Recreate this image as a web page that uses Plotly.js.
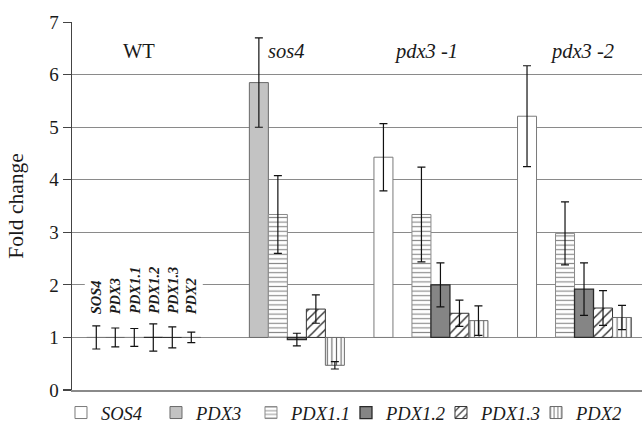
<!DOCTYPE html>
<html>
<head>
<meta charset="utf-8">
<script src="https://cdn.plot.ly/plotly-3.0.1.min.js"></script>
<style>html,body{margin:0;padding:0;background:#fff;}#chart{width:642px;height:428px;}</style>
</head>
<body>
<div id="chart"></div>
<script>
// ---- data (fold change relative to WT, with error) ----
var groups = ['WT', 'sos4', 'pdx3 -1', 'pdx3 -2'];
var genes = ['SOS4', 'PDX3', 'PDX1.1', 'PDX1.2', 'PDX1.3', 'PDX2'];

var sos4Fold  = [1.00, null, 4.43, 5.21];
var sos4Err   = [0.22, null, 0.64, 0.96];
var pdx3Fold  = [1.00, 5.85, null, null];
var pdx3Err   = [0.18, 0.85, null, null];
var pdx11Fold = [1.00, 3.34, 3.34, 2.98];
var pdx11Err  = [0.17, 0.74, 0.90, 0.60];
var pdx12Fold = [1.00, 0.96, 2.00, 1.92];
var pdx12Err  = [0.26, 0.12, 0.42, 0.50];
var pdx13Fold = [1.00, 1.54, 1.46, 1.56];
var pdx13Err  = [0.20, 0.27, 0.25, 0.33];
var pdx2Fold  = [1.00, 0.47, 1.32, 1.38];
var pdx2Err   = [0.10, 0.07, 0.28, 0.23];

var folds = [sos4Fold, pdx3Fold, pdx11Fold, pdx12Fold, pdx13Fold, pdx2Fold];
var errs  = [sos4Err, pdx3Err, pdx11Err, pdx12Err, pdx13Err, pdx2Err];

var styles = [
  {color: '#ffffff', line: {color: '#7a7a7a', width: 1}},
  {color: '#c3c3c3', line: {color: '#6a6a6a', width: 1}},
  {color: '#ffffff', line: {color: '#8a8a8a', width: 1},
   pattern: {shape: '-', fgcolor: '#8a8a8a', bgcolor: '#ffffff', size: 4.6, solidity: 0.25}},
  {color: '#858585', line: {color: '#2a2a2a', width: 1.3}},
  {color: '#ffffff', line: {color: '#333333', width: 1},
   pattern: {shape: '/', fgcolor: '#333333', bgcolor: '#ffffff', size: 6.5, solidity: 0.22}},
  {color: '#ffffff', line: {color: '#6a6a6a', width: 1},
   pattern: {shape: '|', fgcolor: '#6a6a6a', bgcolor: '#ffffff', size: 4.6, solidity: 0.25}}
];

var BASE = 1;
var traces = genes.map(function (g, k) {
  return {
    type: 'bar',
    name: g,
    x: groups,
    y: folds[k].map(function (v) { return v === null ? null : v - BASE; }),
    base: BASE,
    marker: styles[k],
    error_y: {type: 'data', array: errs[k], visible: true, color: '#111111', thickness: 1.2, width: 4},
    hoverinfo: 'skip'
  };
});

var serif = 'Liberation Serif, Times New Roman, serif';
var groupLabelY = 6.45;
var groupLabelX = [-0.033, 0.993, 1.965, 3.052];
var annotations = groups.map(function (g, i) {
  return {
    x: groupLabelX[i], y: groupLabelY, xref: 'x', yref: 'y',
    text: g, showarrow: false, xanchor: 'center', yanchor: 'middle',
    font: {family: serif, size: 20.5, color: '#1a1a1a', style: i === 0 ? 'normal' : 'italic'}
  };
});

// rotated gene labels above WT bars
var nBars = genes.length;
var bargap = 0.206;
var barW = (1 - bargap) / nBars;
genes.forEach(function (g, k) {
  annotations.push({
    x: 0 + (k - (nBars - 1) / 2) * barW, y: 1.37, xref: 'x', yref: 'y',
    text: '<b><i>' + g + '</i></b>', showarrow: false, textangle: -90,
    xanchor: 'center', yanchor: 'bottom', bgcolor: '#ffffff', borderpad: 3,
    font: {family: serif, size: 14.5, color: '#1a1a1a'}
  });
});

var layout = {
  width: 642, height: 428,
  margin: {l: 72, r: 0, t: 22, b: 38},
  paper_bgcolor: '#ffffff', plot_bgcolor: '#ffffff',
  barmode: 'group', bargap: bargap, bargroupgap: 0,
  showlegend: true,
  legend: {
    orientation: 'h', x: 0.095, xanchor: 'left', xref: 'container',
    y: 0.035, yanchor: 'middle', yref: 'container',
    bgcolor: 'rgba(0,0,0,0)',
    font: {family: serif, size: 18.5, color: '#1a1a1a', style: 'italic'},
    itemwidth: 30, entrywidth: 50, entrywidthmode: 'pixels',
    tracegroupgap: 0, traceorder: 'normal'
  },
  xaxis: {
    type: 'category', range: [-0.5, 3.47],
    showticklabels: false, ticks: '', showgrid: false,
    showline: true, linecolor: '#8a8a8a', linewidth: 1.5, zeroline: false, fixedrange: true
  },
  yaxis: {
    range: [0, 7.003], dtick: 1, tick0: 0,
    ticks: 'outside', ticklen: 8, tickcolor: '#444444', tickwidth: 1.2,
    showline: true, linecolor: '#444444', linewidth: 1.5,
    showgrid: true, gridcolor: '#8a8a8a', gridwidth: 1.2, zeroline: false,
    tickfont: {family: serif, size: 19, color: '#1a1a1a'},
    title: {text: 'Fold change', font: {family: serif, size: 21.5, color: '#1a1a1a'}, standoff: 19},
    fixedrange: true
  },
  annotations: annotations
};

Plotly.newPlot('chart', traces, layout, {displayModeBar: false, staticPlot: true});
</script>
</body>
</html>
